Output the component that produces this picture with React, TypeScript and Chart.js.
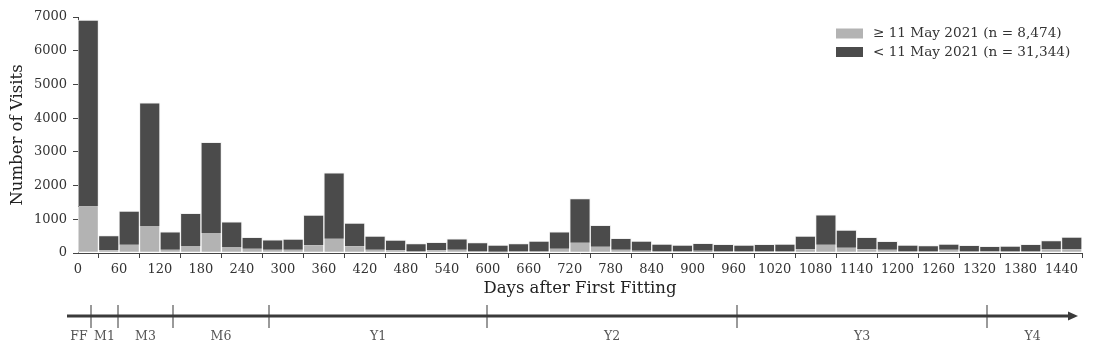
import React, { useEffect, useRef } from 'react';
import { Chart, registerables } from 'chart.js';

Chart.register(...registerables);

// Bin centres (days after first fitting), 30-day bins
const binCenters = [
  15, 45, 75, 105, 135, 165, 195, 225, 255, 285, 315, 345, 375, 405, 435, 465, 495,
  525, 555, 585, 615, 645, 675, 705, 735, 765, 795, 825, 855, 885, 915, 945, 975,
  1005, 1035, 1065, 1095, 1125, 1155, 1185, 1215, 1245, 1275, 1305, 1335, 1365,
  1395, 1425, 1455,
];

// Visits on or after 11 May 2021 (light, bottom of stack)
const recentVisits = [
  1380, 80, 246, 800, 100, 207, 592, 177, 128, 99, 99, 227, 424, 197, 99, 79, 59,
  79, 99, 59, 40, 59, 59, 128, 306, 187, 99, 69, 59, 59, 69, 59, 59,
  59, 59, 108, 246, 158, 108, 99, 59, 59, 99, 59, 49, 59,
  59, 108, 108,
];

// Visits before 11 May 2021 (dark, top of stack)
const earlierVisits = [
  5530, 433, 996, 3657, 531, 966, 2691, 750, 335, 295, 315, 897, 1952, 690, 404, 306, 217,
  237, 325, 247, 197, 217, 296, 503, 1311, 631, 335, 286, 207, 178, 217, 197, 178,
  197, 207, 395, 888, 522, 355, 246, 178, 158, 167, 168, 148, 148,
  197, 257, 365,
];

const xTickValues = [
  0, 60, 120, 180, 240, 300, 360, 420, 480, 540, 600, 660, 720, 780, 840, 900, 960,
  1020, 1080, 1140, 1200, 1260, 1320, 1380, 1440,
];
const yTickValues = [0, 1000, 2000, 3000, 4000, 5000, 6000, 7000];

const seriesLabels = ['≥ 11 May 2021 (n = 8,474)', '< 11 May 2021 (n = 31,344)'];

// Follow-up timeline below the chart
const timelineLabels = ['FF', 'M1', 'M3', 'M6', 'Y1', 'Y2', 'Y3', 'Y4'];
const timelineBreaks = [0.0237, 0.0504, 0.1048, 0.1998, 0.4154, 0.6627, 0.91];

const FONT = "'DejaVu Serif', serif";
const LIGHT = '#b3b3b3';
const DARK = '#4b4b4b';
const AXIS = '#444444';
const TEXT = '#333333';

const legendPlugin = {
  id: 'insideLegend',
  afterDraw(chart: any) {
    const ctx = chart.ctx;
    ctx.save();
    const x = 836;
    const rows = [33.5, 52];
    chart.data.datasets.forEach((ds: any, i: number) => {
      ctx.fillStyle = ds.backgroundColor;
      ctx.fillRect(x, rows[i] - 5, 27, 10);
      ctx.fillStyle = TEXT;
      ctx.font = `13.6px ${FONT}`;
      ctx.textBaseline = 'middle';
      ctx.textAlign = 'left';
      ctx.fillText(ds.label, x + 37, rows[i]);
    });
    ctx.restore();
  },
};

const timelinePlugin = {
  id: 'timeline',
  afterDraw(chart: any) {
    const ctx = chart.ctx;
    const x0 = 67;
    const x1 = 1078;
    const y = 316;
    const len = x1 - x0;
    ctx.save();
    ctx.strokeStyle = '#9a9a9a';
    ctx.lineWidth = 2;
    timelineBreaks.forEach((f) => {
      const px = Math.round(x0 + f * len);
      ctx.beginPath();
      ctx.moveTo(px, y - 11);
      ctx.lineTo(px, y + 12);
      ctx.stroke();
    });
    ctx.strokeStyle = '#3a3a3a';
    ctx.lineWidth = 3;
    ctx.beginPath();
    ctx.moveTo(x0, y);
    ctx.lineTo(x1 - 6, y);
    ctx.stroke();
    ctx.fillStyle = '#3a3a3a';
    ctx.beginPath();
    ctx.moveTo(x1, y);
    ctx.lineTo(x1 - 10, y - 4.5);
    ctx.lineTo(x1 - 10, y + 4.5);
    ctx.closePath();
    ctx.fill();
    const edges = [0, ...timelineBreaks, 1];
    ctx.fillStyle = '#555555';
    ctx.font = `12.5px ${FONT}`;
    ctx.textAlign = 'center';
    ctx.textBaseline = 'middle';
    timelineLabels.forEach((lab, i) => {
      const cx = x0 + ((edges[i] + edges[i + 1]) / 2) * len;
      ctx.fillText(lab, cx, 337);
    });
    ctx.restore();
  },
};

export default function App() {
  const canvasRef = useRef<HTMLCanvasElement | null>(null);

  useEffect(() => {
    document.body.style.margin = '0';
    const canvas = canvasRef.current;
    if (!canvas) return;
    const chart = new Chart(canvas, {
      type: 'bar',
      data: {
        datasets: [
          {
            label: seriesLabels[0],
            data: binCenters.map((x, i) => ({ x, y: recentVisits[i] })),
            backgroundColor: LIGHT,
            borderColor: 'rgba(255,255,255,0.9)',
            borderWidth: 1,
            borderSkipped: 'top',
            barPercentage: 1,
            categoryPercentage: 1,
          },
          {
            label: seriesLabels[1],
            data: binCenters.map((x, i) => ({ x, y: earlierVisits[i] })),
            backgroundColor: DARK,
            borderColor: 'rgba(240,240,240,0.9)',
            borderWidth: 1,
            borderSkipped: 'bottom',
            barPercentage: 1,
            categoryPercentage: 1,
          },
        ],
      },
      options: {
        responsive: false,
        animation: false,
        devicePixelRatio: 1,
        layout: { padding: { top: 17, right: 11, left: 0, bottom: 0 } },
        plugins: {
          legend: { display: false },
          tooltip: { enabled: false },
        },
        scales: {
          x: {
            type: 'linear',
            stacked: true,
            min: 0,
            max: 1470,
            offset: false,
            afterBuildTicks: (s: any) => {
              s.ticks = xTickValues.map((v) => ({ value: v }));
            },
            afterFit: (s: any) => {
              s.height = 102;
            },
            ticks: {
              autoSkip: false,
              maxRotation: 0,
              padding: 4,
              color: TEXT,
              font: { family: FONT, size: 13 },
              callback: (v: any) => String(v),
            },
            grid: {
              display: true,
              drawOnChartArea: false,
              drawTicks: true,
              tickLength: 5,
              color: AXIS,
            },
            border: { display: true, color: AXIS, width: 1 },
            title: {
              display: true,
              text: 'Days after First Fitting',
              color: '#222222',
              font: { family: FONT, size: 16.5 },
              padding: { top: 0, bottom: 56 },
            },
          },
          y: {
            stacked: true,
            min: 0,
            max: 7000,
            afterBuildTicks: (s: any) => {
              s.ticks = yTickValues.map((v) => ({ value: v }));
            },
            afterFit: (s: any) => {
              s.width = 78;
            },
            ticks: {
              padding: 6,
              color: TEXT,
              font: { family: FONT, size: 13 },
              callback: (v: any) => String(v),
            },
            grid: {
              display: true,
              drawOnChartArea: false,
              drawTicks: true,
              tickLength: 5,
              color: AXIS,
            },
            border: { display: true, color: AXIS, width: 1 },
            title: {
              display: true,
              text: 'Number of Visits',
              color: '#222222',
              font: { family: FONT, size: 16.5 },
              padding: { top: 8, bottom: 0 },
            },
          },
        },
      } as any,
      plugins: [legendPlugin, timelinePlugin],
    });
    return () => chart.destroy();
  }, []);

  return (
    <div style={{ position: 'absolute', left: 0, top: 0, width: 1093, height: 355 }}>
      <canvas ref={canvasRef} width={1093} height={355} style={{ display: 'block' }} />
    </div>
  );
}
